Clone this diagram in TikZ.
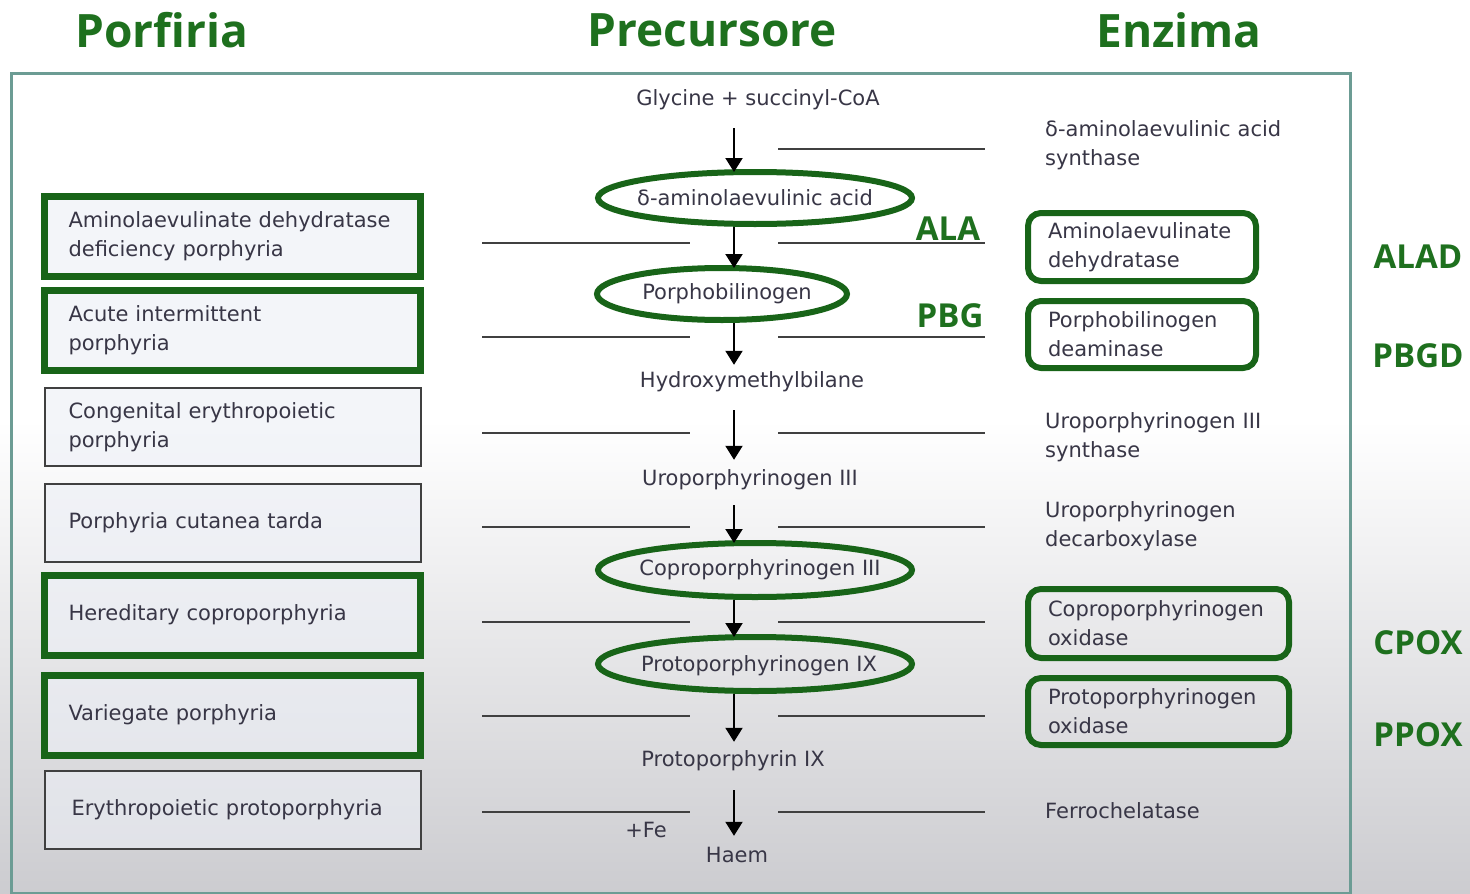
\documentclass[tikz,border=0pt]{standalone}
\usepackage{fontspec}
\setmainfont{DejaVu Sans}
\newfontfamily\headfont{Open Sans}
\usetikzlibrary{shapes.geometric,arrows.meta}
\definecolor{grn}{RGB}{30,112,30}
\definecolor{grnline}{RGB}{24,100,24}
\definecolor{txt}{RGB}{56,54,70}
\definecolor{framec}{RGB}{108,156,148}
\definecolor{boxfill}{RGB}{236,239,246}
\definecolor{sepc}{RGB}{64,64,64}
\begin{document}
\begin{tikzpicture}[x=1pt,y=-1pt,
  body/.style={font=\fontsize{21}{29}\selectfont, text=txt},
  ctext/.style={body, inner xsep=3pt, inner ysep=0pt, text height=15pt, text depth=5pt},
  head/.style={font=\headfont\bfseries\fontsize{46}{50}\selectfont, text=grn},
  abbr/.style={font=\headfont\bfseries\fontsize{33}{36}\selectfont, text=grn},
  dis/.style={body, draw=black!75, line width=2pt, fill=boxfill, fill opacity=0.6, text opacity=1,
    minimum width=376pt, minimum height=78pt, text width=328pt, inner xsep=24pt, align=left},
  disg/.style={dis, draw=grnline, line width=7pt, minimum height=80pt},
  enz/.style={body, anchor=west, text width=264pt, inner xsep=20pt, align=left},
  enzbox/.style={enz, draw=grnline, line width=6pt, rounded corners=13pt},
  prod/.style={ellipse, draw=grnline, line width=6pt, inner sep=0pt},
  ptext/.style={body, inner sep=0pt},
  arr/.style={line width=2pt, draw=black, -{Triangle[width=17pt,length=14pt]}},
  sep/.style={line width=2pt, draw=sepc}
]
\useasboundingbox (0,0) rectangle (1470,894);
% background
\fill[white] (0,0) rectangle (1470,894);
\shade[top color=white, bottom color={rgb,255:red,204;green,204;blue,208}] (0,420) rectangle (1470,894);
% frame
\draw[framec, line width=3pt] (11,73) rectangle (1350,893);

% headers
\node[head] (hpor) at (162,30) {Porfiria};
\node[head] (hpre) at (712,30) {Precursore};
\node[head] (henz) at (1179,30) {Enzima};

% separator lines
\foreach \yy in {243,337,433,527,622,716,812} {
  \draw[sep] (482,\yy) -- (690,\yy);
}
\foreach \yy in {149,243,337,433,527,622,716,812} {
  \draw[sep] (778,\yy) -- (985,\yy);
}

% disease boxes
\node[disg] (d1) at (232.5,236.5) {Aminolaevulinate dehydratase\\deficiency porphyria};
\node[disg] (d2) at (232.5,330.5) {Acute intermittent\\porphyria};
\node[dis]  (d3) at (232.5,427)   {Congenital erythropoietic\\porphyria};
\node[dis]  (d4) at (232.5,523)   {Porphyria cutanea tarda};
\node[disg] (d5) at (232.5,615)   {Hereditary coproporphyria};
\node[disg] (d6) at (232.5,715)   {Variegate porphyria};
\node[dis]  (d7) at (232.5,809.5) {\hspace*{3pt}Erythropoietic protoporphyria};

% precursors
\coordinate (ax) at (734,0);
\node[ctext] (gly)  at (758,100) {Glycine + succinyl-CoA};
\node[prod, minimum width=314pt, minimum height=52pt] (ala) at (755,198) {};
\node[ptext] (alat) at (ala.center) {δ-aminolaevulinic acid};
\node[prod, minimum width=250pt, minimum height=52pt] (pbg) at (722,294) {};
\node[ptext] (pbgt) at ([xshift=5pt]pbg.center) {Porphobilinogen};
\node[ctext] (hmb)  at (752,382) {Hydroxymethylbilane};
\node[ctext] (uro)  at (750,480) {Uroporphyrinogen III};
\node[prod, minimum width=314pt, minimum height=54pt] (copro) at (755,570) {};
\node[ptext] (coprot) at ([xshift=5pt]copro.center) {Coproporphyrinogen III};
\node[prod, minimum width=314pt, minimum height=54pt] (proto) at (755,664) {};
\node[ptext] (protot) at ([xshift=4pt,yshift=-2pt]proto.center) {Protoporphyrinogen IX};
\node[ctext] (ppix) at (733,761) {Protoporphyrin IX};
\node[ctext] (haem) at (737,857) {Haem};
\node[ctext] (fe)   at (646,832) {+Fe};

% arrows
\draw[arr, shorten <=18pt, shorten >=-3pt] (gly.south -| ax) -- (ala.north -| ax);
\draw[arr, shorten >=-3pt] (ala.south -| ax) -- (pbg.north -| ax);
\draw[arr, shorten >=7pt] (pbg.south -| ax) -- (hmb.north -| ax);
\draw[arr, shorten <=18pt, shorten >=10pt] (hmb.south -| ax) -- (uro.north -| ax);
\draw[arr, shorten <=15pt, shorten >=-3pt] (uro.south -| ax) -- (copro.north -| ax);
\draw[arr, shorten >=-3pt] (copro.south -| ax) -- (proto.north -| ax);
\draw[arr, shorten >=9pt] (proto.south -| ax) -- (ppix.north -| ax);
\draw[arr, shorten <=19pt, shorten >=11pt] (ppix.south -| ax) -- (haem.north -| ax);

% ALA / PBG labels
\node[abbr] (lala) at (948,229) {ALA};
\node[abbr] (lpbg) at (950,316) {PBG};

% enzymes
\node[enz] (e1) at (1025,145.5) {δ-aminolaevulinic acid\\synthase};
\node[enzbox, text width=188pt, minimum height=68pt] (e2) at (1025,247) {Aminolaevulinate\\dehydratase};
\node[enzbox, text width=188pt, minimum height=67pt] (e3) at (1025,334.5) {Porphobilinogen\\deaminase};
\node[enz] (e4) at (1025,437) {Uroporphyrinogen III\\synthase};
\node[enz] (e5) at (1025,526) {Uroporphyrinogen\\decarboxylase};
\node[enzbox, text width=221pt, minimum height=69pt] (e6) at (1025,623.5) {Coproporphyrinogen\\oxidase};
\node[enzbox, text width=221pt, minimum height=67pt] (e7) at (1025,711.5) {Protoporphyrinogen\\oxidase};
\node[enz] (e8) at (1025,811) {Ferrochelatase};

% enzyme abbreviations
\node[abbr] (alad) at (1418,257) {ALAD};
\node[abbr] (pbgd) at (1418,356) {PBGD};
\node[abbr] (cpox) at (1418,643) {CPOX};
\node[abbr] (ppox) at (1418,735) {PPOX};
\end{tikzpicture}
\end{document}
